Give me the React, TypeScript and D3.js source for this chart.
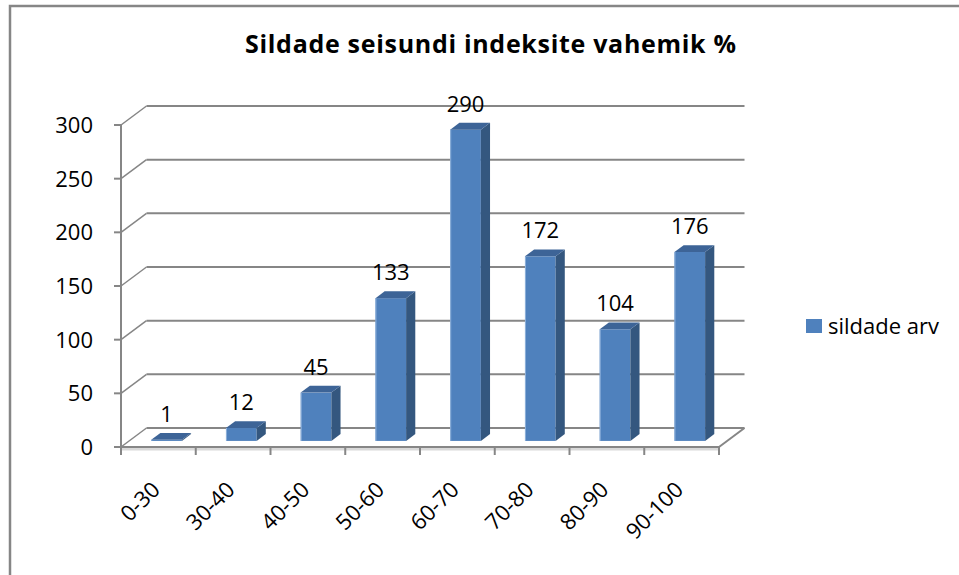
import React from 'react';
import * as d3 from 'd3';

const categories = ['0-30', '30-40', '40-50', '50-60', '60-70', '70-80', '80-90', '90-100'];
const values = [1, 12, 45, 133, 290, 172, 104, 176];
const yTicks = [0, 50, 100, 150, 200, 250, 300];
const seriesName = 'sildade arv';
const title = 'Sildade seisundi indeksite vahemik %';

const FONT = '"Open Sans", Lato, sans-serif';
const GRID = '#868686';

export default function App() {
  const W = 959;
  const H = 575;
  const x = d3.scaleBand<string>().domain(categories).range([121, 719]).padding(0);
  const y = d3.scaleLinear().domain([0, 300]).range([447, 125]);
  const DX = 25.5;
  const DY = -19;
  const zF = 0.32;
  const zB = 0.68;
  const bw = x.bandwidth();
  const barW = bw * 0.41;
  const ddx = DX * (zB - zF);
  const ddy = DY * (zB - zF);
  const [x0r, x1r] = x.range();
  const boundaries = categories.map((c) => x(c) as number).concat([x1r]);
  const pts = (a: number[][]) => a.map((p) => p.join(',')).join(' ');

  return (
    <svg width={W} height={H} style={{ position: 'absolute', left: 0, top: 0, background: '#fff' }} fontFamily={FONT}>
      <rect x={10} y={6} width={970} height={600} fill="#fff" stroke={GRID} strokeWidth={2.5} />
      <text x={490.5} y={53} textAnchor="middle" fontWeight="bold" fontSize={25} textLength={491} lengthAdjust="spacing" fill="#000">{title}</text>

      {/* floor */}
      <polygon points={pts([[x0r, y(0)], [x1r, y(0)], [x1r + DX, y(0) + DY], [x0r + DX, y(0) + DY]])} fill="#fff" />
      <line x1={x0r} x2={x1r} y1={y(0) + 2} y2={y(0) + 2} stroke="#d9d9d9" strokeWidth={3} />
      <line x1={x0r} x2={x1r} y1={y(0)} y2={y(0)} stroke={GRID} strokeWidth={2} />
      <line x1={x1r} x2={x1r + DX} y1={y(0)} y2={y(0) + DY} stroke={GRID} strokeWidth={2} />

      {/* gridlines on back and left walls */}
      {yTicks.map((t) => (
        <g key={t}>
          <line x1={x0r + DX} x2={x1r + DX} y1={y(t) + DY} y2={y(t) + DY} stroke={GRID} strokeWidth={2} />
          <line x1={x0r} x2={x0r + DX} y1={y(t)} y2={y(t) + DY} stroke={GRID} strokeWidth={1.5} />
          <line x1={x0r - 7} x2={x0r} y1={y(t)} y2={y(t)} stroke={GRID} strokeWidth={2} />
          <text x={93} y={y(t)} dy="0.36em" textAnchor="end" fontSize={22} fill="#000">{t}</text>
        </g>
      ))}
      <line x1={x0r} x2={x0r} y1={y(300)} y2={y(0) + 8} stroke={GRID} strokeWidth={2} />

      {boundaries.map((b, i) => (
        <line key={i} x1={b} x2={b} y1={y(0)} y2={y(0) + 8} stroke={GRID} strokeWidth={2} />
      ))}

      {/* bars */}
      {categories.map((c, i) => {
        const v = values[i];
        const fx0 = (x(c) as number) + DX * zF + (bw - barW) / 2;
        const fx1 = fx0 + barW;
        const top = y(v) + DY * zF;
        const bot = y(0) + DY * zF;
        return (
          <g key={c}>
            <rect x={fx0} y={top} width={barW} height={bot - top} fill="#4F81BD" />
            <line x1={fx0 + 0.5} x2={fx0 + 0.5} y1={top} y2={bot} stroke="#8EB0DA" strokeWidth={1} />
            <polygon points={pts([[fx1, top], [fx1 + ddx, top + ddy], [fx1 + ddx, bot + ddy], [fx1, bot]])} fill="#34577F" />
            <polygon points={pts([[fx0, top], [fx1, top], [fx1 + ddx, top + ddy], [fx0 + ddx, top + ddy]])} fill="#3D6497" />
            <text x={(fx0 + fx1) / 2} y={top + ddy - 11} textAnchor="middle" fontSize={22} fill="#000">{v}</text>
          </g>
        );
      })}

      {/* category labels */}
      {categories.map((c) => {
        const cx = (x(c) as number) + bw / 2 + 3;
        const cy = 491;
        return (
          <text key={c} x={cx} y={cy} textAnchor="end" fontSize={22} fill="#000" transform={`rotate(-45 ${cx} ${cy})`}>{c}</text>
        );
      })}

      {/* legend */}
      <rect x={806} y={319} width={16} height={14} fill="#4F81BD" />
      <text x={828} y={334} fontSize={22} fill="#000">{seriesName}</text>
    </svg>
  );
}
